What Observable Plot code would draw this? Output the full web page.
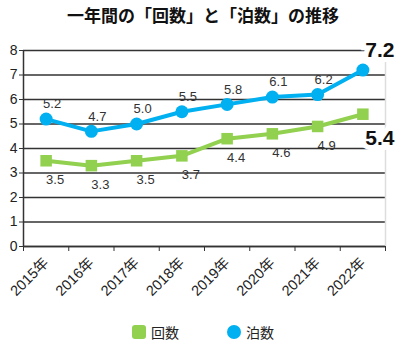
<!DOCTYPE html>
<html><head><meta charset="utf-8">
<script src="https://cdn.jsdelivr.net/npm/d3@7"></script>
<script src="https://cdn.jsdelivr.net/npm/@observablehq/plot@0.6"></script>
<style>
body{margin:0;background:#fff;font-family:"Liberation Sans","Noto Sans CJK JP",sans-serif;}
#title{height:32px;line-height:30px;text-align:center;font-family:"Noto Sans CJK JP",sans-serif;font-weight:bold;font-size:17px;color:#111;width:406px;}
#legend{display:flex;justify-content:center;align-items:center;gap:48px;margin-top:22px;font-family:"Noto Sans CJK JP",sans-serif;font-size:14px;color:#222;width:406px;}
#legend span.item{display:flex;align-items:center;gap:5px;}
.sw{display:inline-block;width:14px;height:14px;}
</style></head>
<body>
<div id="title">一年間の「回数」と「泊数」の推移</div>
<div id="chart"></div>
<div id="legend"></div>
<script>
const years = ["2015年","2016年","2017年","2018年","2019年","2020年","2021年","2022年"];
const kaisu = [3.5,3.3,3.5,3.7,4.4,4.6,4.9,5.4];
const hakusu = [5.2,4.7,5.0,5.5,5.8,6.1,6.2,7.2];
const yTicks = [0,1,2,3,4,5,6,7,8];
const seriesNames = ["回数","泊数"];
const colors = ["#92D050","#00B0F0"];

const green = years.map((y,i)=>({i, year:y, v:kaisu[i]}));
const blue = years.map((y,i)=>({i, year:y, v:hakusu[i]}));
const n = years.length;
const X = d => d.i + 0.5;

const chart = Plot.plot({
  width: 406, height: 268,
  marginTop: 18, marginLeft: 23, marginRight: 21, marginBottom: 54,
  style: {fontFamily: '"Liberation Sans","Noto Sans CJK JP",sans-serif', overflow: "visible"},
  x: {domain: [0, n], axis: null},
  y: {domain: [0, 8], axis: null},
  marks: [
    Plot.gridY({ticks: yTicks, stroke: "#333", strokeOpacity: 1, strokeWidth: 1.5}),
    Plot.ruleX([n], {stroke: "#ddd", strokeWidth: 1.5}),
    Plot.ruleX([0], {stroke: "#333", strokeWidth: 1.5}),
    Plot.ruleY([0], {stroke: "#333", strokeWidth: 1.5}),
    Plot.axisY({ticks: yTicks, label: null, tickSize: 4, tickPadding: 2, fontSize: 14, stroke: "#333", color: "#222"}),
    Plot.axisX({ticks: d3.range(0, n + 1), label: null, tickFormat: () => "", tickSize: 5, stroke: "#333"}),
    Plot.axisX({ticks: d3.range(0, n).map(i => i + 0.5), label: null, tickFormat: t => years[Math.round(t - 0.5)], tickSize: 0, tickPadding: 14, tickRotate: -45, fontSize: 14.5, color: "#222"}),
    Plot.line(green, {x: X, y: "v", stroke: colors[0], strokeWidth: 4}),
    Plot.line(blue, {x: X, y: "v", stroke: colors[1], strokeWidth: 4}),
    Plot.dot(green, {x: X, y: "v", symbol: "square", r: 6.5, fill: colors[0]}),
    Plot.dot(blue, {x: X, y: "v", symbol: "circle", r: 6.5, fill: colors[1]}),
    Plot.text(green.slice(0, n - 1), {x: X, y: "v", text: d => d.v.toFixed(1), dx: 9, dy: 19, fontSize: 13, fill: "#333"}),
    Plot.text(blue.slice(0, n - 1), {x: X, y: "v", text: d => d.v.toFixed(1), dx: 6, dy: -15, fontSize: 13, fill: "#333"}),
    Plot.text(blue.slice(n - 1), {x: X, y: "v", text: d => d.v.toFixed(1), dx: 17, dy: -20, fontSize: 21, fontWeight: "bold", fill: "#111", stroke: "white", strokeWidth: 10, strokeLinejoin: "miter"}),
    Plot.text(green.slice(n - 1), {x: X, y: "v", text: d => d.v.toFixed(1), dx: 17, dy: 24, fontSize: 21, fontWeight: "bold", fill: "#111", stroke: "white", strokeWidth: 10, strokeLinejoin: "miter"})
  ]
});
document.getElementById("chart").appendChild(chart);

const leg = document.getElementById("legend");
seriesNames.forEach((s, k) => {
  const it = document.createElement("span");
  it.className = "item";
  const sw = document.createElement("span");
  sw.className = "sw";
  sw.style.background = colors[k];
  sw.style.borderRadius = k === 0 ? "3px" : "50%";
  const t = document.createElement("span");
  t.textContent = s;
  it.appendChild(sw); it.appendChild(t);
  leg.appendChild(it);
});
</script>
</body></html>
